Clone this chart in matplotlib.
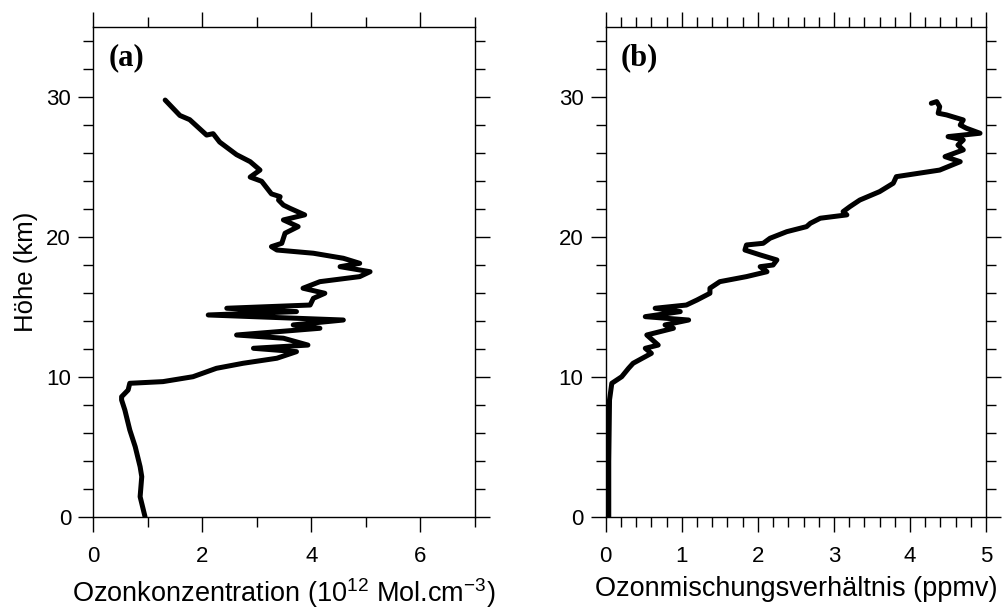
import matplotlib
matplotlib.use("Agg")
import matplotlib.pyplot as plt
from matplotlib.ticker import MultipleLocator

# Panel (a): ozone concentration (10^12 molecules/cm^3) vs altitude (km)
conc_a = [1.32, 1.59, 1.77, 2.08, 2.20, 2.32, 2.63, 2.88, 3.06, 2.88, 3.09, 3.27, 3.43,
          3.40, 3.49, 3.61, 3.88, 3.49, 3.76, 3.52, 3.46, 3.27, 3.37, 4.04, 4.59, 4.89,
          4.53, 5.08, 4.89, 4.16, 3.85, 4.25, 4.04, 3.98, 2.45, 3.73, 2.11, 4.59, 3.67,
          4.16, 2.63, 3.49, 3.94, 2.94, 3.73, 3.37, 2.75, 2.26, 1.83, 1.28, 0.67, 0.64,
          0.52, 0.52, 0.58, 0.67, 0.77, 0.86, 0.89, 0.86, 0.95]
alt_a = [29.8, 28.7, 28.4, 27.3, 27.4, 26.8, 25.9, 25.4, 24.8, 24.3, 24.0, 23.1, 22.9,
         22.66, 22.3, 22.07, 21.6, 21.24, 20.76, 20.29, 19.57, 19.33, 19.09, 18.86, 18.5,
         18.14, 17.9, 17.54, 17.19, 16.83, 16.36, 16.0, 15.64, 15.16, 14.93, 14.69, 14.45,
         14.09, 13.74, 13.5, 13.02, 12.79, 12.3, 12.07, 11.83, 11.36, 11.0, 10.64, 10.04,
         9.69, 9.57, 9.09, 8.61, 8.38, 7.66, 6.24, 5.04, 3.61, 2.9, 1.47, 0.04]

# Panel (b): ozone mixing ratio (ppmv) vs altitude (km)
mix_b = [4.28, 4.35, 4.39, 4.37, 4.48, 4.70, 4.66, 4.74, 4.92, 4.50, 4.70, 4.63, 4.70,
         4.46, 4.66, 4.39, 3.82, 3.78, 3.60, 3.34, 3.21, 3.12, 3.17, 2.82, 2.69, 2.64,
         2.38, 2.16, 2.07, 1.85, 1.83, 2.03, 2.25, 2.20, 2.03, 2.12, 1.85, 1.50, 1.37,
         1.37, 1.20, 1.06, 0.65, 0.98, 0.52, 1.09, 0.78, 0.89, 0.54, 0.69, 0.52, 0.60,
         0.36, 0.30, 0.21, 0.08, 0.05, 0.04, 0.04]
alt_b = [29.57, 29.69, 29.33, 28.86, 28.74, 28.38, 28.02, 27.79, 27.43, 27.19, 26.95,
         26.59, 26.24, 25.76, 25.4, 24.8, 24.33, 23.86, 23.26, 22.66, 22.19, 21.83, 21.6,
         21.36, 21.0, 20.76, 20.4, 19.93, 19.57, 19.45, 19.09, 18.74, 18.38, 18.02, 17.9,
         17.54, 17.19, 16.83, 16.36, 16.0, 15.52, 15.16, 14.93, 14.69, 14.33, 14.09, 13.74,
         13.5, 13.02, 12.3, 12.07, 11.71, 11.0, 10.64, 10.04, 9.57, 8.38, 4.0, 0.0]

plt.rcParams['font.family'] = ['Liberation Sans', 'DejaVu Sans']
plt.rcParams['mathtext.fontset'] = 'custom'
plt.rcParams['mathtext.rm'] = 'Liberation Sans'
plt.rcParams['mathtext.it'] = 'Liberation Sans'

fig = plt.figure(figsize=(10.05, 6.1), dpi=100)
axa = fig.add_axes([0.0928, 0.152, 0.3795, 0.8033])
axb = fig.add_axes([0.6027, 0.152, 0.3785, 0.8033])

for ax in (axa, axb):
    ax.set_ylim(0, 35)
    ax.yaxis.set_major_locator(MultipleLocator(10))
    ax.yaxis.set_minor_locator(MultipleLocator(2))
    ax.tick_params(which='both', direction='out', top=True, right=True,
                   labeltop=False, labelright=False, width=1.0, color='black')
    ax.tick_params(which='major', length=11, labelsize=16)
    ax.tick_params(which='minor', length=7.5)
    ax.tick_params(axis='x', which='major', pad=10)
    ax.tick_params(axis='y', which='major', pad=5)
    for s in ax.spines.values():
        s.set_linewidth(1.0)

axa.plot(conc_a, alt_a, color='black', lw=3.6, solid_capstyle='round',
         solid_joinstyle='round')
axa.set_xlim(0, 7)
axa.xaxis.set_major_locator(MultipleLocator(2))
axa.xaxis.set_minor_locator(MultipleLocator(1))
axa.set_xlabel('Ozonkonzentration (10$^{\\mathregular{12}}$ Mol.cm$^{\\mathregular{-3}}$)',
               fontsize=19.5, labelpad=6)
axa.set_ylabel('Höhe (km)', fontsize=18.5, labelpad=6)
axa.text(0.04, 0.968, '(a)', transform=axa.transAxes, ha='left', va='top',
         fontsize=22, fontweight='bold', family='Liberation Serif')

axb.plot(mix_b, alt_b, color='black', lw=3.6, solid_capstyle='round',
         solid_joinstyle='round')
axb.set_xlim(0, 5)
axb.xaxis.set_major_locator(MultipleLocator(1))
axb.xaxis.set_minor_locator(MultipleLocator(0.2))
axb.tick_params(axis='x', which='minor', length=7)
axb.set_xlabel('Ozonmischungsverhältnis (ppmv)', fontsize=19.5, labelpad=6)
axb.text(0.038, 0.968, '(b)', transform=axb.transAxes, ha='left', va='top',
         fontsize=22, fontweight='bold', family='Liberation Serif')

fig.savefig('out.png', dpi=100)
